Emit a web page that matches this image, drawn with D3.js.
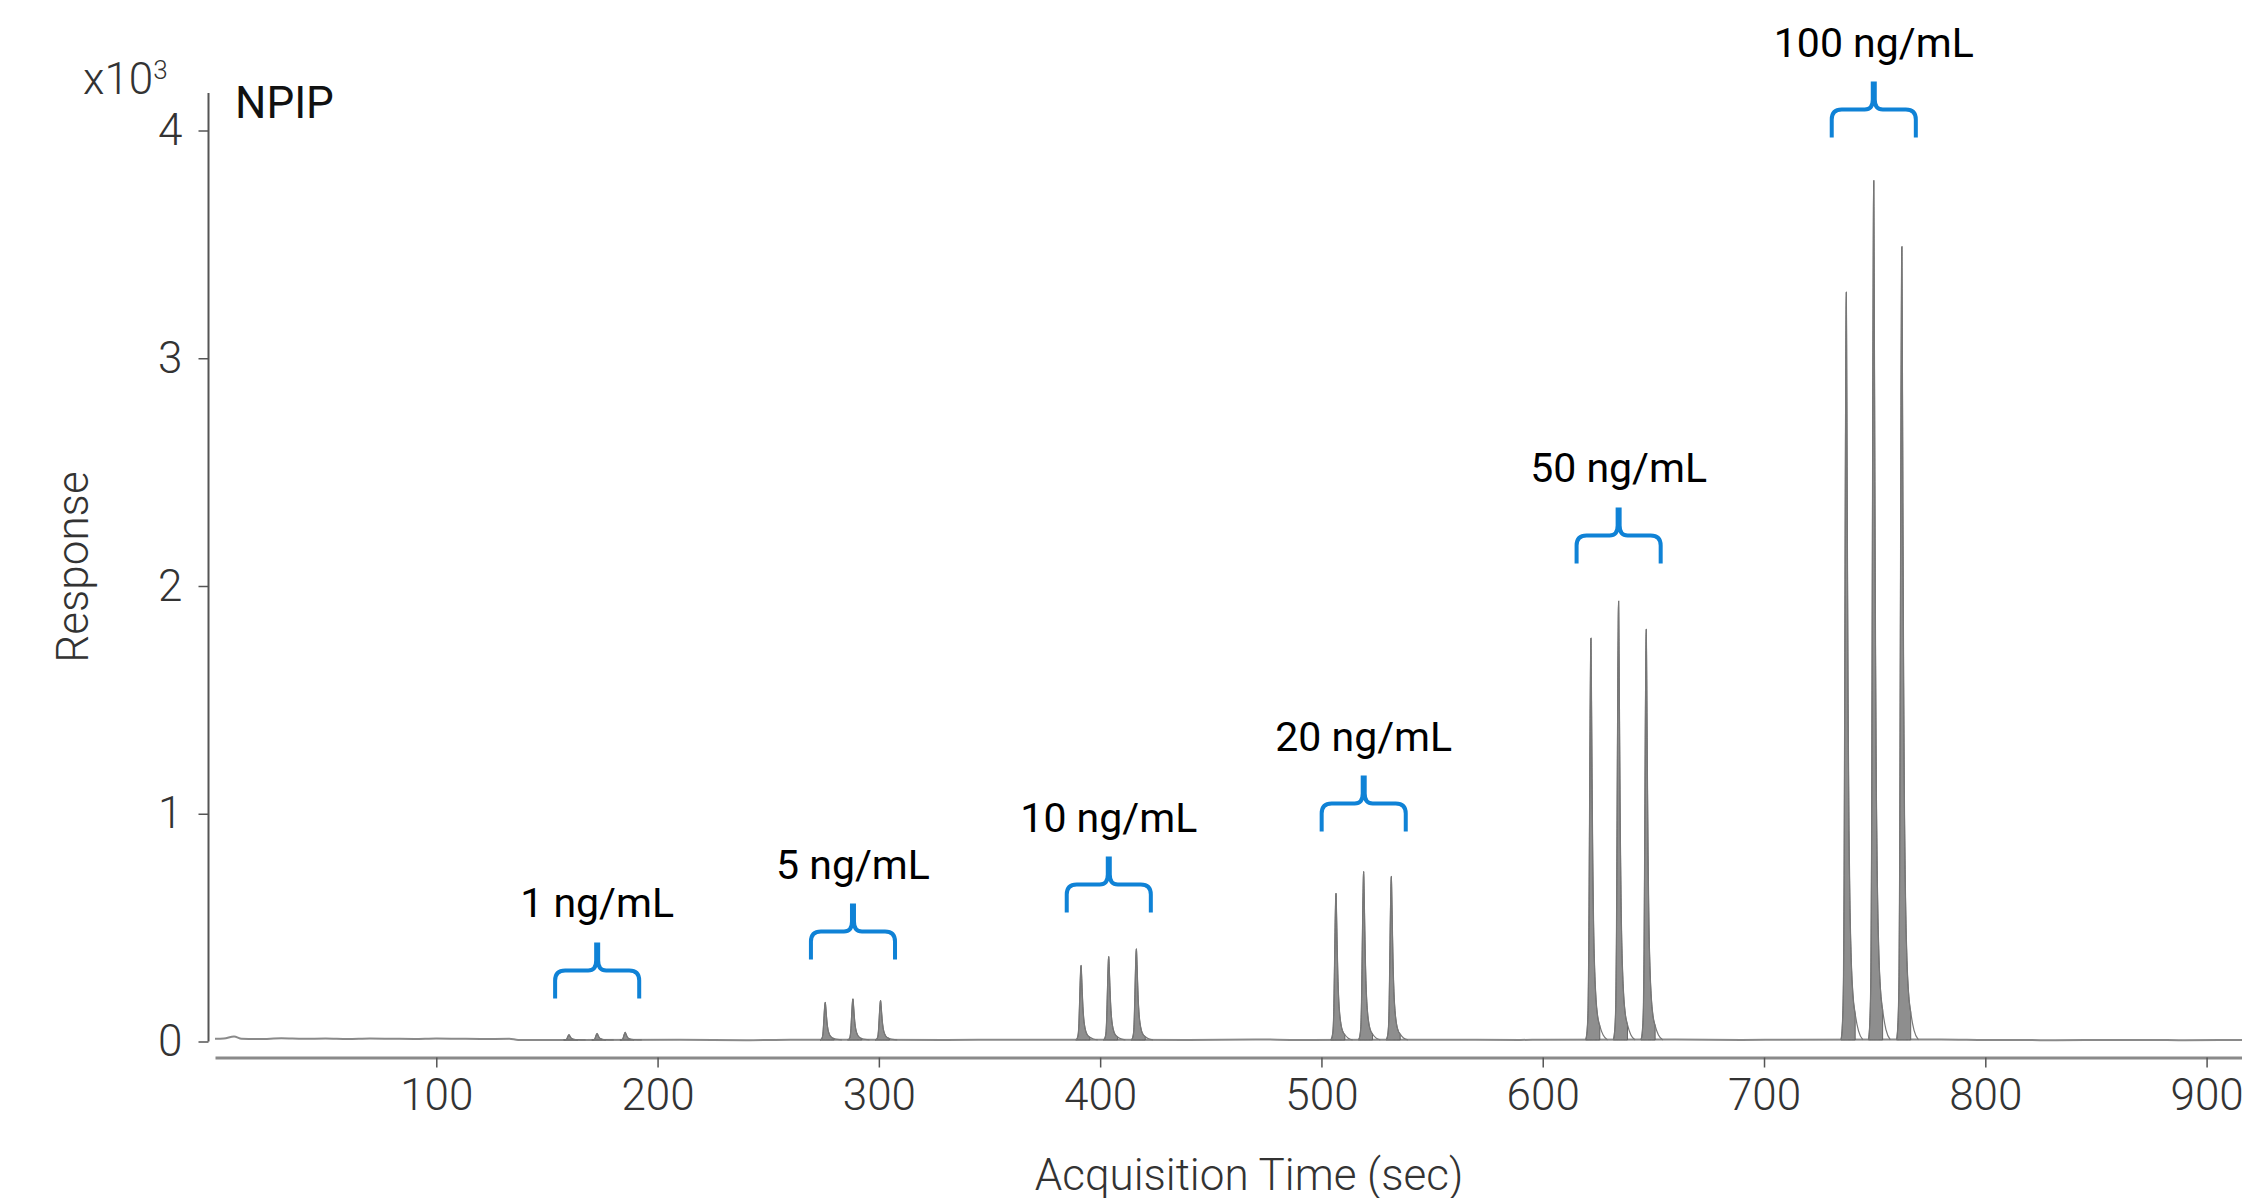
<!DOCTYPE html>
<html>
<head>
<meta charset="utf-8">
<script src="https://cdn.jsdelivr.net/npm/d3@7"></script>
<style>
  html, body { margin: 0; padding: 0; background: #fff; }
  svg { display: block; font-family: Roboto, "Open Sans", sans-serif; }
  .tick text { font-size: 44px; font-weight: 300; fill: #333; }
</style>
</head>
<body>
<svg class="root"></svg>
<script>
// retention times (sec) and apex heights (x10^3) of the 18 injections
var peakTimes = [160.0, 172.7, 185.4, 275.8, 288.3, 300.8, 391.4, 403.9, 416.4,
                 506.6, 519.1, 531.6, 621.8, 634.3, 646.8, 737.2, 749.6, 762.3];
var peakHeights = [0.030, 0.035, 0.040, 0.172, 0.187, 0.180, 0.334, 0.373, 0.407,
                   0.651, 0.746, 0.725, 1.771, 1.934, 1.810, 3.29, 3.78, 3.49];

var shapeOffsets =   [-2.4, -1.8, -1.3, -1.0, -0.7, -0.4, -0.15, 0, 0.2, 0.5, 0.8, 1.2, 1.7, 2.3, 3.0, 4.0, 5.5, 7.5];
var shapeFractions = [0, 0.02, 0.08, 0.22, 0.5, 0.8, 0.97, 1, 0.88, 0.65, 0.45, 0.28, 0.17, 0.1, 0.06, 0.035, 0.012, 0];
var integrationEnd = 4.0;

// baseline trace (sec, x10^3)
var baseTimes = [0, 4, 8.6, 12, 20, 30, 40, 50, 60, 70, 80, 90, 100, 110, 120, 133, 137, 150,
                 210, 240, 260, 330, 360, 440, 470, 490, 560, 590, 600, 660, 690, 710,
                 780, 800, 830, 860, 890, 916];
var baseValues = [0.012, 0.013, 0.022, 0.012, 0.011, 0.014, 0.012, 0.013, 0.011, 0.013, 0.012, 0.011,
                  0.013, 0.012, 0.011, 0.012, 0.007, 0.007, 0.008, 0.006, 0.008, 0.007, 0.008, 0.007,
                  0.009, 0.007, 0.008, 0.007, 0.008, 0.009, 0.007, 0.008, 0.009, 0.007, 0.006,
                  0.007, 0.006, 0.007];
var baseLevel = 0.007;

var groupLabels = ["1 ng/mL", "5 ng/mL", "10 ng/mL", "20 ng/mL", "50 ng/mL", "100 ng/mL"];
var braceLevels = [0.189, 0.36, 0.566, 0.922, 2.099, 3.969];
var braceHalfSpan = 19;

var xTicks = [100, 200, 300, 400, 500, 600, 700, 800, 900];
var yTicks = [0, 1, 2, 3, 4];

var width = 2242, height = 1198;

var x = d3.scaleLinear().domain([0, 916]).range([215, 2242]);
var y = d3.scaleLinear().domain([0, 4]).range([1041.5, 130.5]);

var svg = d3.select(".root")
    .attr("width", width)
    .attr("height", height);

// axes
var yAxis = svg.append("g")
    .attr("transform", "translate(208.5,0)")
    .call(d3.axisLeft(y).tickValues(yTicks).tickFormat(d3.format("d")).tickSize(10).tickPadding(16).tickSizeOuter(0));
yAxis.select(".domain").attr("d", "M0," + y(0) + "V" + y(4.165)).attr("stroke", "#555").attr("stroke-width", 2);
yAxis.selectAll(".tick line").attr("stroke", "#555").attr("stroke-width", 1.5);

var xAxis = svg.append("g")
    .attr("transform", "translate(0,1057.5)")
    .call(d3.axisBottom(x).tickValues(xTicks).tickFormat(d3.format("d")).tickSize(10).tickPadding(11).tickSizeOuter(0));
xAxis.select(".domain").attr("stroke", "#8a8a8a").attr("stroke-width", 3);
xAxis.selectAll(".tick line").attr("stroke", "#555").attr("stroke-width", 1.5);

yAxis.attr("font-family", null).attr("font-size", null);
xAxis.attr("font-family", null).attr("font-size", null);

svg.append("text")
    .attr("x", 1249).attr("y", 1190)
    .attr("text-anchor", "middle")
    .style("font-size", "44px").style("font-weight", 300).style("fill", "#333")
    .text("Acquisition Time (sec)");

svg.append("text")
    .attr("transform", "translate(88,567)rotate(-90)")
    .attr("text-anchor", "middle")
    .style("font-size", "44px").style("font-weight", 300).style("fill", "#333")
    .text("Response");

var mult = svg.append("text")
    .attr("x", 83).attr("y", 94)
    .style("font-size", "44px").style("font-weight", 300).style("fill", "#333");
mult.append("tspan").text("x10");
mult.append("tspan").attr("dy", -15).style("font-size", "26px").text("3");

svg.append("text")
    .attr("x", 235).attr("y", 118)
    .style("font-size", "44px").style("fill", "#111")
    .text("NPIP");

// chromatogram
var line = d3.line()
    .x((d) => { return x(d[0]) })
    .y((d) => { return y(d[1]) })
    .curve(d3.curveMonotoneX);

var area = d3.area()
    .x((d) => { return x(d[0]) })
    .y0(y(baseLevel))
    .y1((d) => { return y(d[1]) })
    .curve(d3.curveMonotoneX);

svg.append("path")
    .datum(baseTimes.map((t, i) => { return [t, baseValues[i]] }))
    .attr("d", line)
    .attr("fill", "none")
    .attr("stroke", "#8a8a8a")
    .attr("stroke-width", 2);

var peaks = peakTimes.map((t, i) => {
  return shapeOffsets.map((o, j) => {
    return [t + o, baseLevel + shapeFractions[j] * (peakHeights[i] - baseLevel)];
  });
});

svg.selectAll(".peak-fill")
    .data(peaks)
  .enter().append("path")
    .attr("class", "peak-fill")
    .attr("d", (d) => { return area(d.filter((p, j) => { return shapeOffsets[j] <= integrationEnd })) })
    .attr("fill", "#8e8e8e")
    .attr("stroke", "#5a5a5a")
    .attr("stroke-width", 0.9);

svg.selectAll(".peak-line")
    .data(peaks)
  .enter().append("path")
    .attr("class", "peak-line")
    .attr("d", line)
    .attr("fill", "none")
    .attr("stroke", "#777")
    .attr("stroke-width", 1.2);

// concentration braces
var groups = groupLabels.map((label, i) => {
  return { label: label, time: peakTimes[i * 3 + 1], level: braceLevels[i] };
});

var brace = svg.selectAll(".brace")
    .data(groups)
  .enter().append("g")
    .attr("class", "brace");

brace.append("path")
    .attr("d", (d) => {
      var cx = x(d.time), yb = y(d.level),
          half = x(d.time + braceHalfSpan) - cx;
      return "M" + (cx - half) + "," + yb + "V" + (yb - 18) +
             "Q" + (cx - half) + "," + (yb - 28) + " " + (cx - half + 10) + "," + (yb - 28) +
             "H" + (cx - 9) + "Q" + (cx - 1) + "," + (yb - 28) + " " + (cx - 1) + "," + (yb - 38) +
             "V" + (yb - 56) +
             "M" + (cx + half) + "," + yb + "V" + (yb - 18) +
             "Q" + (cx + half) + "," + (yb - 28) + " " + (cx + half - 10) + "," + (yb - 28) +
             "H" + (cx + 9) + "Q" + (cx + 1) + "," + (yb - 28) + " " + (cx + 1) + "," + (yb - 38) +
             "V" + (yb - 56);
    })
    .attr("fill", "none")
    .attr("stroke", "#0f82d6")
    .attr("stroke-width", 4);

brace.append("text")
    .attr("x", (d) => { return x(d.time) })
    .attr("y", (d) => { return y(d.level) - 81 })
    .attr("text-anchor", "middle")
    .style("font-size", "41px")
    .style("fill", "#000")
    .text((d) => { return d.label });
</script>
</body>
</html>
